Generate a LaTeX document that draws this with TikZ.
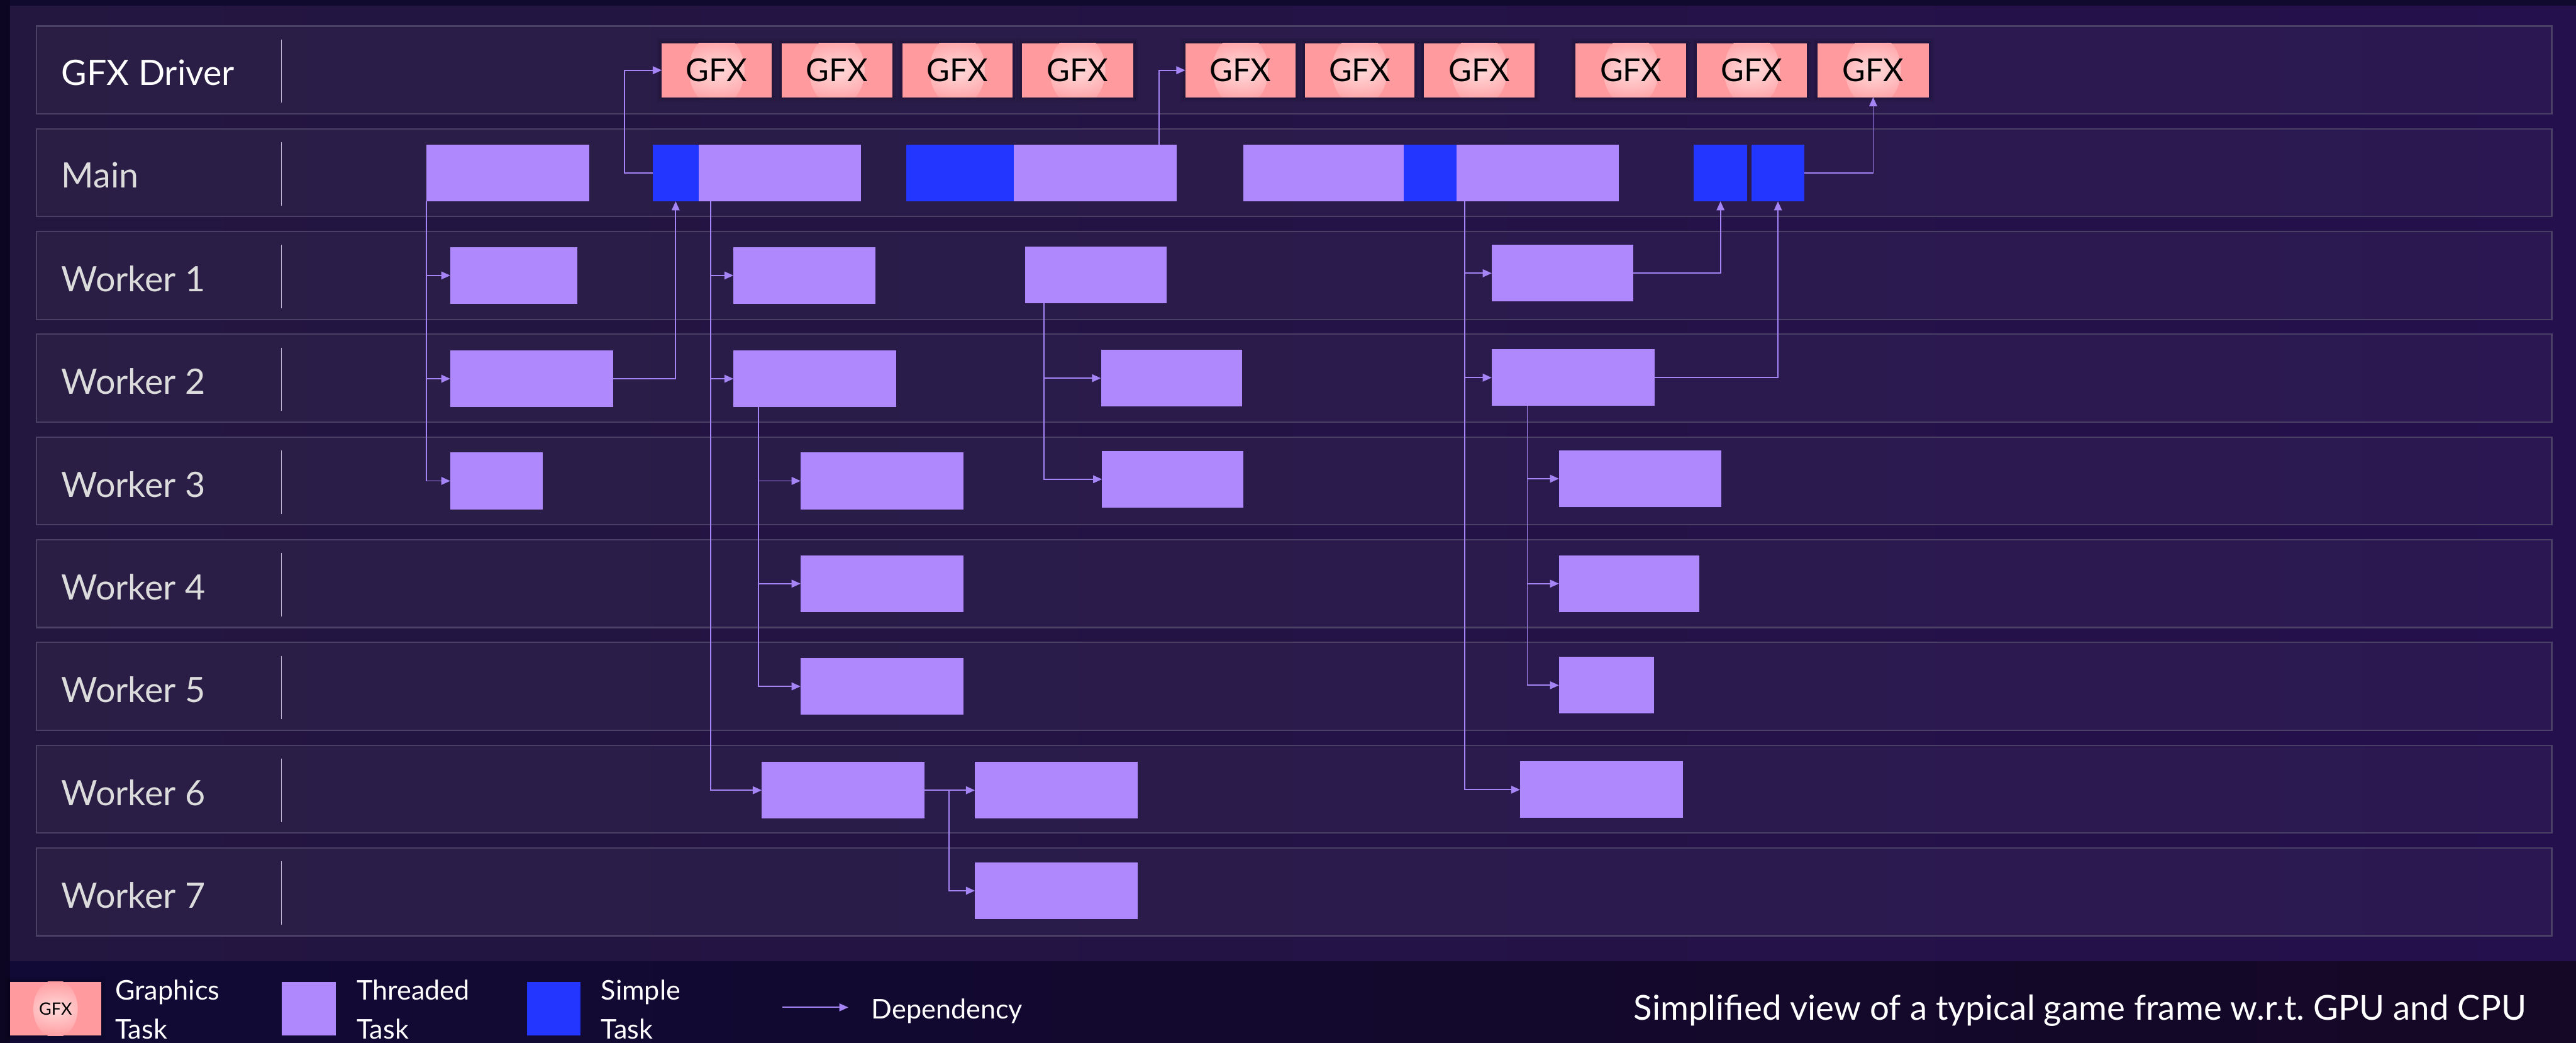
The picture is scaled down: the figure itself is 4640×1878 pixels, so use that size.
\documentclass[tikz,border=0pt]{standalone}
\usepackage{fontspec}
\setmainfont{Lato}
\usetikzlibrary{arrows.meta,calc}

\definecolor{bgdark}{HTML}{0C0622}
\definecolor{topdark}{HTML}{0F0A2E}
\definecolor{panelL}{HTML}{23163F}
\definecolor{panelM}{HTML}{1B1450}
\definecolor{panelR}{HTML}{24104C}
\definecolor{footL}{HTML}{110A36}
\definecolor{footM}{HTML}{22103E}
\definecolor{footR}{HTML}{150826}
\definecolor{laneline}{HTML}{4A4066}
\definecolor{sepline}{HTML}{C9C2DA}
\definecolor{threadc}{HTML}{AE88FC}
\definecolor{simplec}{HTML}{2236FF}
\definecolor{gfxc}{HTML}{FF9A9E}
\definecolor{gfxhi}{HTML}{FFDADA}
\definecolor{depc}{HTML}{A585F5}
\definecolor{labelc}{HTML}{DCDCDC}

\newcommand\lblfont{\fontsize{17.9pt}{21pt}\selectfont}
\newcommand\capfont{\fontsize{17.6pt}{21pt}\selectfont}
\newcommand\gfxfont{\fontsize{16.2pt}{19pt}\selectfont}
\newcommand\smallgfxfont{\fontsize{8.7pt}{10pt}\selectfont}
\newcommand\legfont{\fontsize{13.9pt}{19.9pt}\selectfont}

% task box spanning x1..x2 (pixel units) centred on a lane
\newcommand\tsk[5]{\node[#2, minimum width={(#4-#3)*0.01cm}] (#1) at ({(#3+#4)/2},#5) {};}
% graphics driver box spanning x1..x2
\newcommand\gfxbox[3]{\node[gfx, minimum width={(#3-#2)*0.01cm}] (#1) at ({(#2+#3)/2},126.5) {GFX};}

\begin{document}
\begin{tikzpicture}[x=0.01cm, y=-0.01cm,
  task/.style={rectangle, inner sep=0pt, outer sep=0pt, minimum height=1.02cm},
  thr/.style={task, fill=threadc},
  smp/.style={task, fill=simplec},
  glow/.style={path picture={\shade[inner color=gfxhi, outer color=gfxc]
      (path picture bounding box.center) ellipse [x radius=#1*0.5cm, y radius=#1*0.65cm];}},
  gfx/.style={rectangle, inner sep=0pt, outer sep=0pt, minimum height=0.97cm,
      fill=gfxc, glow=1, text=black, font=\gfxfont,
      preaction={draw=black, draw opacity=0.07, line width=5pt},
      preaction={draw=black, draw opacity=0.10, line width=2.5pt}},
  dep/.style={draw=depc, line width=0.6pt, -{Triangle[length=4.6pt,width=4pt]}},
  lane/.style={rectangle, inner sep=0pt, outer sep=0pt, minimum width=45.28cm,
      minimum height=1.58cm, fill=white, fill opacity=0.035, draw=laneline, line width=0.7pt},
  lbl/.style={anchor=base west, inner sep=0pt, font=\lblfont, text=labelc},
  leg/.style={anchor=north west, inner sep=0pt, font=\legfont, text=white, align=left}
]
\useasboundingbox (0,0) rectangle (4640,1878);

% backdrop
\fill[bgdark] (0,0) rectangle (4640,1878);
\fill[topdark] (18,0) rectangle (4640,11);
\shade[left color=panelL, middle color=panelM, right color=panelR] (18,11) rectangle (4640,1732);
\shade[left color=footL, middle color=footM, right color=footR] (18,1732) rectangle (4640,1878);

% lanes with their label separators
\foreach \i in {0,...,8} {
  \node[lane] (lane\i) at (2331,{126+185*\i}) {};
  \draw[sepline, line width=0.45pt] (507,{71+185*\i}) -- (507,{185+185*\i});
}

% lane labels
\node[lbl, text=white] (tgfx) at (110,153) {GFX Driver};
\node[lbl] (tmain) at (110,338) {Main};
\foreach \i in {1,...,7} {
  \node[lbl] (tw\i) at (110,{155+185*(\i+1)}) {Worker \i};
}

% GFX driver submissions
\gfxbox{g1}{1192}{1390}
\gfxbox{g2}{1408}{1607}
\gfxbox{g3}{1625}{1824}
\gfxbox{g4}{1841}{2041}
\gfxbox{g5}{2135}{2334}
\gfxbox{g6}{2350}{2548}
\gfxbox{g7}{2565}{2764}
\gfxbox{g8}{2838}{3037}
\gfxbox{g9}{3056}{3255}
\gfxbox{g10}{3274}{3474}

% main thread
\tsk{m1}{thr}{768}{1061}{311.5}
\tsk{s1}{smp}{1176}{1258}{311.5}
\tsk{m2}{thr}{1258}{1551}{311.5}
\tsk{s2}{smp}{1632}{1826}{311.5}
\tsk{m3}{thr}{1826}{2120}{311.5}
\tsk{m4}{thr}{2240}{2528}{311.5}
\tsk{s3}{smp}{2528}{2623}{311.5}
\tsk{m5}{thr}{2623}{2916}{311.5}
\tsk{s4}{smp}{3051}{3147}{311.5}
\tsk{s5}{smp}{3155}{3250}{311.5}

% worker 1
\tsk{a1}{thr}{811}{1040}{496}
\tsk{a2}{thr}{1321}{1577}{496}
\tsk{a3}{thr}{1846}{2101}{495}
\tsk{a4}{thr}{2687}{2942}{492}
% worker 2
\tsk{b1}{thr}{811}{1105}{682}
\tsk{b2}{thr}{1321}{1614}{682}
\tsk{b3}{thr}{1983}{2237}{681}
\tsk{b4}{thr}{2687}{2980}{680}
% worker 3
\tsk{c1}{thr}{811}{978}{866}
\tsk{c2}{thr}{1442}{1735}{866}
\tsk{c3}{thr}{1985}{2240}{863}
\tsk{c4}{thr}{2808}{3101}{862}
% worker 4
\tsk{d2}{thr}{1442}{1735}{1051}
\tsk{d4}{thr}{2808}{3061}{1051}
% worker 5
\tsk{e2}{thr}{1442}{1735}{1236}
\tsk{e4}{thr}{2808}{2979}{1234}
% worker 6
\tsk{f1}{thr}{1372}{1665}{1423}
\tsk{f2}{thr}{1756}{2049}{1423}
\tsk{f4}{thr}{2738}{3031}{1422}
% worker 7
\tsk{h2}{thr}{1756}{2049}{1604}

% dependencies
\coordinate (m1d) at (m1.south west);
\draw[dep] (m1d) |- (a1.west);
\draw[dep] (m1d) |- (b1.west);
\draw[dep] (m1d) |- (c1.west);
\draw[dep] (b1.east) -| (s1.south);
\draw[dep] (s1.west) -- ++(-51,0) |- (g1.west);

\coordinate (m2d) at ($(m2.south west)+(22,0)$);
\draw[dep] (m2d) |- (a2.west);
\draw[dep] (m2d) |- (b2.west);
\draw[dep] (m2d) |- (f1.west);

\coordinate (b2d) at ($(b2.south west)+(45,0)$);
\draw[dep] (b2d) |- (c2.west);
\draw[dep] (b2d) |- (d2.west);
\draw[dep] (b2d) |- (e2.west);

\draw[dep] ($(m3.north east)+(-32,0)$) |- (g5.west);

\coordinate (a3d) at ($(a3.south west)+(34,0)$);
\draw[dep] (a3d) |- (b3.west);
\draw[dep] (a3d) |- (c3.west);

\draw[dep] (f1.east) -- (f2.west);
\coordinate (f1r) at ($(f1.east)+(44,0)$);
\draw[dep] (f1r) |- (h2.west);

\coordinate (m5d) at ($(m5.south west)+(15,0)$);
\draw[dep] (m5d) |- (a4.west);
\draw[dep] (m5d) |- (b4.west);
\draw[dep] (m5d) |- (f4.west);

\coordinate (b4d) at ($(b4.south west)+(64,0)$);
\draw[dep] (b4d) |- (c4.west);
\draw[dep] (b4d) |- (d4.west);
\draw[dep] (b4d) |- (e4.west);

\draw[dep] (a4.east) -| (s4.south);
\draw[dep] (b4.east) -| (s5.south);
\draw[dep] (s5.east) -| (g10.south);

% legend
\node[gfx, minimum width=1.64cm, font=\smallgfxfont, glow=0.8] (lgfx) at (100,1816.5) {GFX};
\node[leg] (lgfxt) at (207,1764) {Graphics\\Task};
\node[thr, minimum width=0.97cm, minimum height=0.97cm] (lthr) at (556.5,1816.5) {};
\node[leg] (lthrt) at (642,1764) {Threaded\\Task};
\node[smp, minimum width=0.97cm, minimum height=0.97cm] (lsmp) at (997.5,1816.5) {};
\node[leg] (lsmpt) at (1082,1764) {Simple\\Task};
\coordinate (ldepA) at (1409,1814);
\coordinate (ldepB) at (1528,1814);
\draw[dep] (ldepA) -- (ldepB);
\node[anchor=base west, inner sep=0pt, font=\legfont, text=white] (ldept) at (1569,1835) {Dependency};

% caption
\node[anchor=base east, inner sep=0pt, font=\capfont, text=white] (caption) at (4551,1837)
  {Simplified view of a typical game frame w.r.t.\ GPU and CPU};
\end{tikzpicture}
\end{document}
